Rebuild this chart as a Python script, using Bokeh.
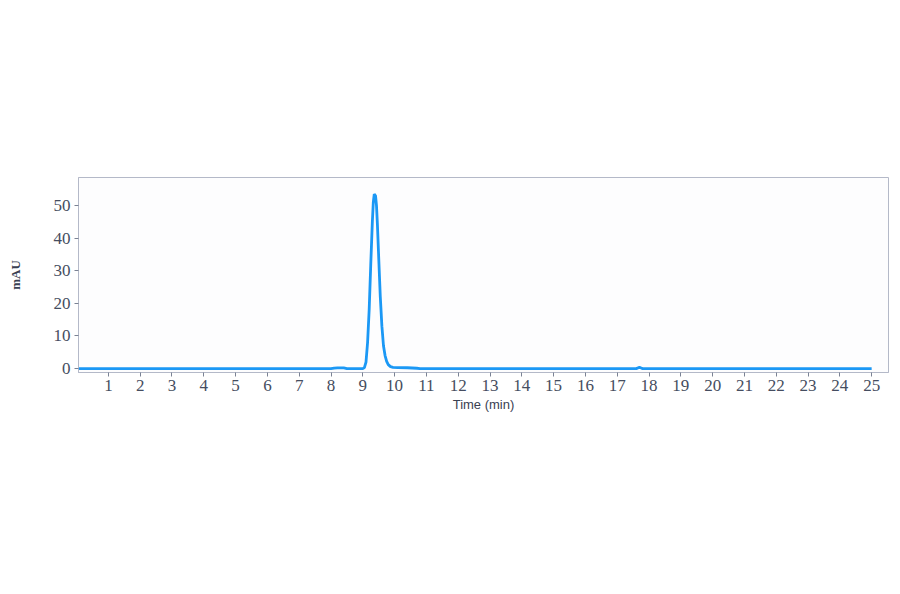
from bokeh.plotting import figure
from bokeh.models import FixedTicker, Range1d
from bokeh.embed import file_html
from bokeh.resources import INLINE

# Chromatogram
time_min = [0.0, 8.0, 8.1, 8.2, 8.4, 8.5, 9.0, 9.05, 9.1, 9.15, 9.2, 9.25, 9.3, 9.33, 9.36,
            9.4, 9.43, 9.46, 9.5, 9.55, 9.6, 9.65, 9.7, 9.75, 9.8, 9.87, 9.95, 10.1,
            10.4, 10.7, 10.8, 17.6, 17.7, 17.75, 17.8, 25.0]
mau = [0.0, 0.0, 0.15, 0.2, 0.2, 0.0, 0.0, 0.3, 2.0, 8.0, 18.0, 32.0, 45.0, 51.0, 53.5,
       53.0, 50.0, 44.0, 34.0, 22.0, 13.0, 7.0, 4.0, 2.2, 1.2, 0.6, 0.4, 0.3,
       0.25, 0.1, 0.0, 0.0, 0.4, 0.2, 0.0, 0.0]
x_ticks = list(range(1, 26))
y_ticks = [0, 10, 20, 30, 40, 50]

p = figure(width=892, height=586, output_backend="svg", toolbar_location=None,
           x_range=Range1d(0.06, 25.53), y_range=Range1d(-1.2, 58.6),
           min_border_left=78, min_border_right=4, min_border_top=177,
           min_border_bottom=214, background_fill_color="#fdfdfe",
           border_fill_color="#ffffff")

p.line(time_min, mau, line_color="#1b98f5", line_width=2.8)

p.grid.visible = False
p.outline_line_color = "#b4b9c8"
p.outline_line_width = 1

for ax in (p.xaxis[0], p.yaxis[0]):
    ax.axis_line_color = "#b4b9c8"
    ax.major_tick_line_color = "#7a8294"
    ax.major_tick_in = 0
    ax.major_tick_out = 4
    ax.minor_tick_line_color = None
    ax.major_label_text_font = "Liberation Serif"
    ax.major_label_text_font_size = "17px"
    ax.major_label_text_color = "#454d60"

p.xaxis.ticker = FixedTicker(ticks=x_ticks)
p.yaxis.ticker = FixedTicker(ticks=y_ticks)
p.xaxis.major_label_standoff = 3
p.yaxis.major_label_standoff = 4

p.xaxis.axis_label = "Time (min)"
p.xaxis.axis_label_text_font = "Liberation Sans"
p.xaxis.axis_label_text_font_style = "normal"
p.xaxis.axis_label_text_font_size = "13px"
p.xaxis.axis_label_text_color = "#3a4152"
p.xaxis.axis_label_standoff = 3

p.yaxis.axis_label = "mAU"
p.yaxis.axis_label_text_font = "Liberation Serif"
p.yaxis.axis_label_text_font_style = "bold"
p.yaxis.axis_label_text_font_size = "13px"
p.yaxis.axis_label_text_color = "#3a4152"
p.yaxis.axis_label_standoff = 28

open("out.html", "w").write(file_html(p, INLINE))
